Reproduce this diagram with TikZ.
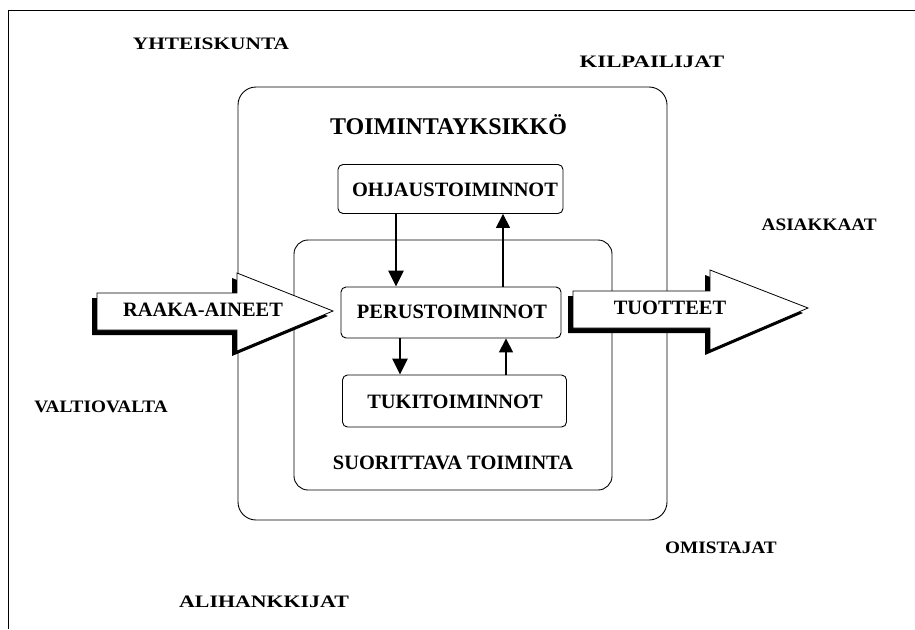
\documentclass[tikz,border=0pt]{standalone}
\usepackage{fontspec}
\setmainfont{Liberation Serif}
\usetikzlibrary{arrows.meta,calc}
% horizontally widened caption text
\newcommand{\widecaps}[2]{\scalebox{#1}[1]{#2}}
\begin{document}
\begin{tikzpicture}[x=1pt,y=-1pt,
  lbl/.style={font=\fontsize{20.4}{22}\selectfont\bfseries, inner sep=0pt},
  outerlbl/.style={font=\fontsize{17.5}{20}\selectfont\bfseries, inner sep=0pt},
  areabox/.style={draw, line width=0.9pt, rounded corners=18pt},
  unitbox/.style={draw, line width=0.9pt, rounded corners=5pt, inner sep=0pt},
  flowdown/.style={line width=2.6pt, -{Triangle[width=15pt,length=16pt]}},
  flowup/.style={line width=1.6pt, -{Triangle[width=14pt,length=14pt]}},
  blockshade/.style={fill=black},
  blockface/.style={fill=white, draw, line width=0.8pt, line join=miter}]
\useasboundingbox (0,0) rectangle (915,629);
\fill[white] (0,0) rectangle (915,629);

% page frame (top and left edge)
\draw[line width=1pt] (915,10) -- (8,10) -- (8,629);

% nested areas
\node[areabox, minimum width=429pt, minimum height=433pt] (unit) at (452.5,303.5) {};
\node[areabox, rounded corners=14pt, minimum width=318pt, minimum height=250pt] (exec) at (453,365) {};
\node[lbl, font=\fontsize{24}{26}\selectfont\bfseries] (unitlbl) at (448.5,125) {TOIMINTAYKSIKKÖ};
\node[lbl] (execlbl) at (453,463) {SUORITTAVA TOIMINTA};

% functions
\node[unitbox, minimum width=225pt, minimum height=49pt] (ohj) at (450.5,189) {};
\node[lbl] (ohjlbl) at (455,190) {OHJAUSTOIMINNOT};
\node[unitbox, minimum width=220pt, minimum height=51pt] (perus) at (451,312.5) {};
\node[lbl] (peruslbl) at (452,312) {PERUSTOIMINNOT};
\node[unitbox, minimum width=224pt, minimum height=52pt] (tuki) at (454.5,401) {};
\node[lbl] (tukilbl) at (455,402) {TUKITOIMINNOT};

\draw[flowdown] ([xshift=-54.5pt]ohj.south) -- ([xshift=-55pt]perus.north);
\draw[flowup]   ([xshift=52pt]perus.north) -- ([xshift=52.5pt]ohj.south);
\draw[flowdown] ([xshift=-51pt]perus.south) -- ([xshift=-54.5pt]tuki.north);
\draw[flowup]   ([xshift=51.5pt]tuki.north) -- ([xshift=55pt]perus.south);

% input block arrow
\begin{scope}[shift={(-5,5)}]
  \fill[blockshade] (97,293) -- (237,293) -- (237,273) -- (333,311) -- (237,351) -- (237,330) -- (97,330) -- cycle;
\end{scope}
\draw[blockface] (97,293) -- (237,293) -- (237,273) -- (333,311) -- (237,351) -- (237,330) -- (97,330) -- cycle;
\node[lbl] (raaka) at (203,310) {RAAKA-AINEET};

% output block arrow
\begin{scope}[shift={(-5,5)}]
  \fill[blockshade] (573,291) -- (710,291) -- (710,270) -- (808,308) -- (710,350) -- (710,328) -- (573,328) -- cycle;
\end{scope}
\draw[blockface] (573,291) -- (710,291) -- (710,270) -- (808,308) -- (710,350) -- (710,328) -- (573,328) -- cycle;
\node[lbl] (tuotteet) at (670,308) {TUOTTEET};

% surrounding stakeholders
\node[outerlbl] (yht) at (211,44) {\widecaps{1.22}{YHTEISKUNTA}};
\node[outerlbl] (kil) at (652,62) {\widecaps{1.3}{KILPAILIJAT}};
\node[outerlbl, anchor=east] (asi) at (877,225) {\widecaps{1.1}{ASIAKKAAT}};
\node[outerlbl] (val) at (101,407) {\widecaps{1.1}{VALTIOVALTA}};
\node[outerlbl] (omi) at (721,548) {\widecaps{1.1}{OMISTAJAT}};
\node[outerlbl] (ali) at (264,602) {\widecaps{1.25}{ALIHANKKIJAT}};
\end{tikzpicture}
\end{document}
